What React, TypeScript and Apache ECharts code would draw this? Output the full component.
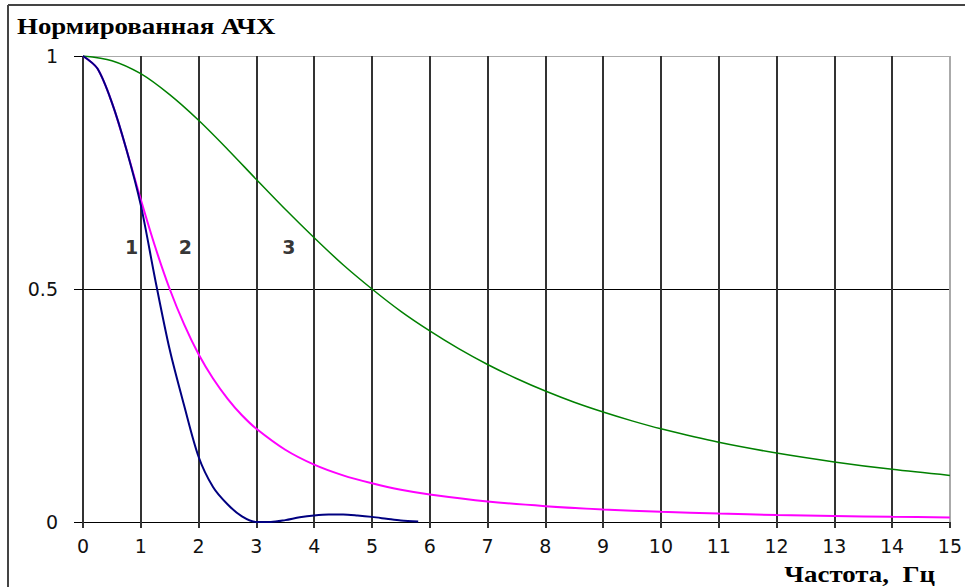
import React, { useEffect, useRef } from "react";
import * as echarts from "echarts";

const xTicks = [0, 1, 2, 3, 4, 5, 6, 7, 8, 9, 10, 11, 12, 13, 14, 15];
const yTicks = [0, 0.5, 1];

// Curve 1 (navy)
const x1 = [0, 0.25, 0.5, 0.75, 1, 1.25, 1.5, 1.75, 2, 2.25, 2.5, 2.75, 3, 3.25, 3.5, 3.75, 4, 4.25, 4.5, 4.75, 5, 5.25, 5.5, 5.8];
const y1 = [1, 0.973, 0.9, 0.8, 0.68, 0.52, 0.37, 0.25, 0.14, 0.075, 0.038, 0.012, 0, 0, 0.004, 0.01, 0.014, 0.016, 0.016, 0.014, 0.011, 0.007, 0.003, 0.001];

// Curve 2 (magenta)
const x2 = [0, 0.25, 0.5, 0.75, 1, 1.25, 1.5, 1.75, 2, 2.25, 2.5, 2.75, 3, 3.5, 4, 4.5, 5, 5.5, 6, 7, 8, 9, 10, 11, 12, 13, 14, 15];
const y2 = [1, 0.973, 0.9, 0.8, 0.692, 0.59, 0.5, 0.424, 0.36, 0.308, 0.265, 0.229, 0.2, 0.155, 0.123, 0.1, 0.083, 0.069, 0.059, 0.044, 0.034, 0.027, 0.022, 0.018, 0.015, 0.013, 0.011, 0.0099];

// Curve 3 (green)
const x3 = [0, 0.5, 1, 1.5, 2, 2.5, 3, 3.5, 4, 4.5, 5, 5.5, 6, 6.5, 7, 7.5, 8, 8.5, 9, 9.5, 10, 11, 12, 13, 14, 15];
const y3 = [1, 0.99, 0.962, 0.917, 0.862, 0.8, 0.735, 0.671, 0.61, 0.552, 0.5, 0.452, 0.41, 0.372, 0.338, 0.308, 0.281, 0.257, 0.236, 0.217, 0.2, 0.171, 0.148, 0.129, 0.113, 0.1];

// Curve number labels (data coordinates)
const curveLabels = ["1", "2", "3"];
const curveLabelX = [0.84, 1.77, 3.56];
const curveLabelY = [0.59, 0.59, 0.59];

const titleText = "Нормированная АЧХ";
const xAxisTitle = "Частота,  Гц";

const zip = (xs: number[], ys: number[]) => xs.map((x, i) => [x, ys[i]]);

const serif = "Liberation Serif";

export default function App() {
  const ref = useRef<HTMLDivElement>(null);
  useEffect(() => {
    if (!ref.current) return;
    const chart = echarts.init(ref.current, null, { renderer: "svg" });
    const xSplitColors = xTicks.map((t, i) => (i === xTicks.length - 1 ? "#aaaaaa" : "#333333"));
    const ySplitColors = yTicks.map((t) => (t === 1 ? "#aaaaaa" : "#000000"));
    chart.setOption({
      animation: false,
      backgroundColor: "#ffffff",
      grid: { left: 83, top: 56, right: 10, bottom: 65, containLabel: false },
      xAxis: {
        type: "value",
        min: 0,
        max: 15,
        interval: 1,
        axisLine: { show: true, lineStyle: { color: "#000", width: 1 } },
        axisTick: { show: true, length: 6, lineStyle: { color: "#333", width: 2 } },
        axisLabel: {
          margin: 14,
          fontFamily: "DejaVu Sans",
          fontSize: 19,
          color: "#111",
        },
        splitLine: { show: true, lineStyle: { color: xSplitColors, width: 2 } },
      },
      yAxis: {
        type: "value",
        min: 0,
        max: 1,
        interval: 0.5,
        axisLine: { show: false },
        axisTick: { show: true, length: 9, lineStyle: { color: "#000", width: 1 } },
        axisLabel: {
          margin: 25,
          fontFamily: "DejaVu Sans",
          fontSize: 19,
          color: "#111",
        },
        splitLine: { show: true, lineStyle: { color: ySplitColors, width: 1 } },
      },
      series: [
        {
          type: "line",
          name: "1",
          data: zip(x1, y1),
          smooth: 0.3,
          showSymbol: false,
          lineStyle: { color: "#000080", width: 2 },
          z: 3,
        },
        {
          type: "line",
          name: "2",
          data: zip(x2, y2),
          smooth: 0.3,
          showSymbol: false,
          lineStyle: { color: "#ff00ff", width: 2 },
          z: 2,
        },
        {
          type: "line",
          name: "3",
          data: zip(x3, y3),
          smooth: 0.3,
          showSymbol: false,
          lineStyle: { color: "#008000", width: 1.5 },
          z: 2,
        },
        {
          type: "scatter",
          symbolSize: 0,
          data: curveLabels.map((n, i) => ({ value: [curveLabelX[i], curveLabelY[i]], name: n })),
          label: {
            show: true,
            position: "inside",
            formatter: (p: any) => p.name,
            fontFamily: "DejaVu Sans",
            fontWeight: "bold",
            fontSize: 19,
            color: "#000",
          },
          z: 5,
        },
      ],
      graphic: [
        {
          type: "line",
          shape: { x1: 8, y1: 5, x2: 965, y2: 5 },
          style: { stroke: "#444", lineWidth: 2 },
        },
        {
          type: "line",
          shape: { x1: 8, y1: 5, x2: 8, y2: 587 },
          style: { stroke: "#444", lineWidth: 2 },
        },
        {
          type: "text",
          x: 17,
          y: 38,
          scaleX: 1.12,
          style: {
            text: titleText,
            fontFamily: serif,
            fontWeight: "bold",
            fontSize: 24,
            fill: "#000",
            verticalAlign: "bottom",
          },
        },
        {
          type: "text",
          x: 935,
          y: 586,
          scaleX: 1.12,
          style: {
            text: xAxisTitle,
            fontFamily: serif,
            fontWeight: "bold",
            fontSize: 24,
            fill: "#000",
            align: "right",
            verticalAlign: "bottom",
          },
        },
      ],
    });
    return () => chart.dispose();
  }, []);
  return (
    <div
      ref={ref}
      style={{ position: "absolute", left: 0, top: 0, width: 965, height: 587 }}
    />
  );
}
